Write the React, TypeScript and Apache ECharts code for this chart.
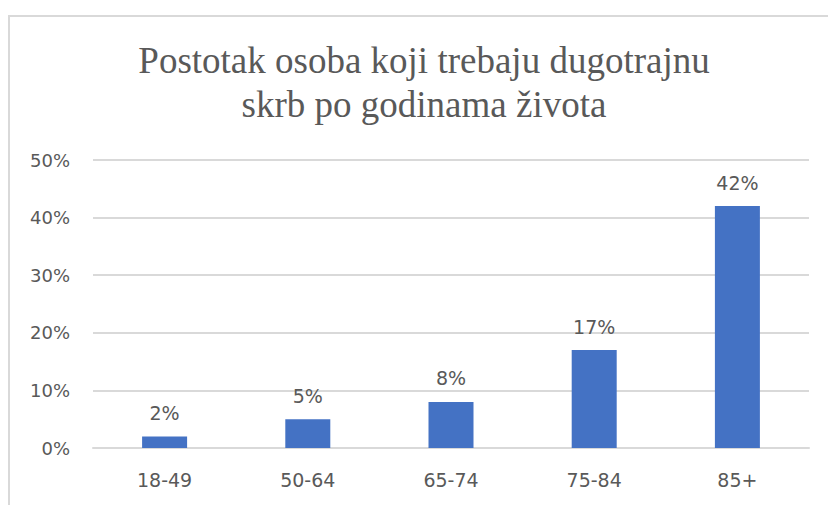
import React, { useEffect, useRef } from "react";
import * as echarts from "echarts";

const titleLines = ["Postotak osoba koji trebaju dugotrajnu", "skrb po godinama života"];
const categories = ["18-49", "50-64", "65-74", "75-84", "85+"];
const values = [2, 5, 8, 17, 42];
const yMin = 0;
const yMax = 50;
const yStep = 10;

export default function App() {
  const ref = useRef<HTMLDivElement>(null);
  useEffect(() => {
    if (!ref.current) return;
    const chart = echarts.init(ref.current, null, { renderer: "svg" });
    chart.setOption({
      animation: false,
      backgroundColor: "#ffffff",
      graphic: [
        {
          type: "rect",
          shape: { x: 9, y: 16, width: 840, height: 520 },
          style: { fill: "none", stroke: "#d9d9d9", lineWidth: 2 },
          silent: true,
        },
        {
          type: "text",
          x: 424,
          y: 38,
          style: {
            text: titleLines.join("\n"),
            fontFamily: "Liberation Serif",
            fontSize: 37,
            lineHeight: 44,
            fill: "#595959",
            textAlign: "center",
            textVerticalAlign: "top",
          },
        },
      ],
      grid: { left: 93, right: 19, top: 160, bottom: 57, containLabel: false },
      xAxis: {
        type: "category",
        data: categories,
        axisLine: { show: true, lineStyle: { color: "#d9d9d9", width: 2 } },
        axisTick: { show: false },
        axisLabel: {
          color: "#595959",
          fontSize: 19,
          fontFamily: "DejaVu Sans",
          margin: 22,
        },
      },
      yAxis: {
        type: "value",
        min: yMin,
        max: yMax,
        interval: yStep,
        axisLine: { show: false },
        axisTick: { show: false },
        splitLine: { lineStyle: { color: "#d9d9d9", width: 2 } },
        axisLabel: {
          color: "#595959",
          fontSize: 18,
          fontFamily: "DejaVu Sans",
          margin: 23,
          formatter: (v: number) => v + "%",
        },
      },
      series: [
        {
          type: "bar",
          data: values,
          barWidth: 45,
          itemStyle: { color: "#4472C4" },
          label: {
            show: true,
            position: "top",
            distance: 14,
            color: "#595959",
            fontSize: 19,
            fontFamily: "DejaVu Sans",
            formatter: (p: any) => p.value + "%",
          },
        },
      ],
    });
    return () => chart.dispose();
  }, []);
  return (
    <div
      ref={ref}
      style={{ position: "fixed", left: 0, top: 0, width: 828, height: 505 }}
    />
  );
}
